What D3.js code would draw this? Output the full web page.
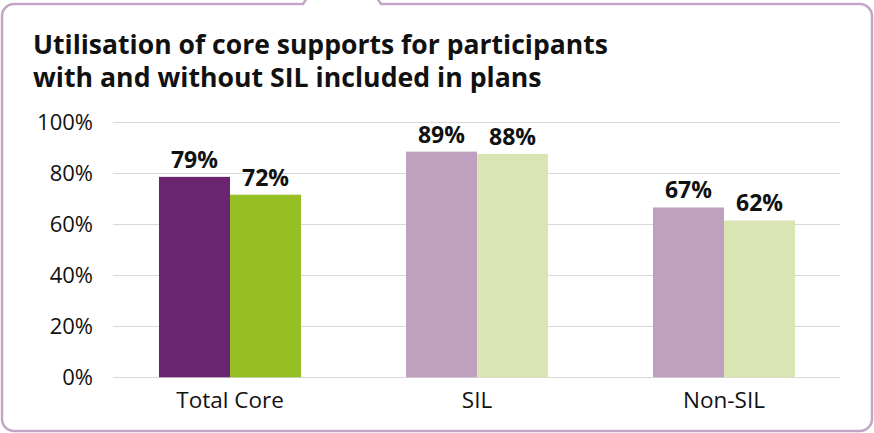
<!DOCTYPE html>
<html><head><meta charset="utf-8">
<script src="https://cdn.jsdelivr.net/npm/d3@7/dist/d3.min.js"></script>
<style>
html,body{margin:0;padding:0;background:#fff;}
svg{display:block;}
text{font-family:"Open Sans",sans-serif;fill:#111;}
</style></head>
<body>
<svg id="chart" width="874" height="433"></svg>
<script>
const titleLines = ["Utilisation of core supports for participants", "with and without SIL included in plans"];
const categories = ["Total Core", "SIL", "Non-SIL"];
const seriesA = [78.6, 88.5, 66.6];
const seriesB = [71.6, 87.6, 61.5];
const yTicks = [0, 20, 40, 60, 80, 100];
const colorsA = ["#6b2570", "#bfa0bf", "#bfa0bf"];
const colorsB = ["#96bf23", "#d9e5b2", "#d9e5b2"];

const svg = d3.select("#chart");

// Frame with top tab notch
const fr = {l:2, r:872, t:4, b:431, rad:12};
const frame = d3.path();
frame.moveTo(307, -2);
frame.lineTo(303, fr.t);
frame.lineTo(fr.l + fr.rad, fr.t);
frame.arcTo(fr.l, fr.t, fr.l, fr.t + fr.rad, fr.rad);
frame.lineTo(fr.l, fr.b - fr.rad);
frame.arcTo(fr.l, fr.b, fr.l + fr.rad, fr.b, fr.rad);
frame.lineTo(fr.r - fr.rad, fr.b);
frame.arcTo(fr.r, fr.b, fr.r, fr.b - fr.rad, fr.rad);
frame.lineTo(fr.r, fr.t + fr.rad);
frame.arcTo(fr.r, fr.t, fr.r - fr.rad, fr.t, fr.rad);
frame.lineTo(381, fr.t);
frame.lineTo(377, -2);
svg.append("path").attr("d", frame.toString())
  .attr("fill", "none").attr("stroke", "#c3a6c6").attr("stroke-width", 2.5);

// Title, fitted to the reference width
const titleWidths = [575, 509];
titleLines.forEach((t, i) => {
  const g = svg.append("g").attr("transform", `translate(33,${53.5 + i * 33.5})`);
  const tx = g.append("text").style("font-weight", "700").style("font-size", "26px").text(t);
  const w = tx.node().getComputedTextLength();
  tx.attr("transform", `scale(${titleWidths[i] / w},1)`);
});

// Scales
const y = d3.scaleLinear().domain([0, 100]).range([377.3, 122.3]);
const x = d3.scaleBand().domain(categories).range([106.5, 847.5])
  .paddingInner(0.425).paddingOuter(0.2125);
const bw = x.bandwidth() / 2;

// Grid
svg.append("g").selectAll("line").data(yTicks).join("line")
  .attr("x1", 113).attr("x2", 840)
  .attr("y1", d => Math.round(y(d)) + 0.5).attr("y2", d => Math.round(y(d)) + 0.5)
  .attr("stroke", "#d9d9d9").attr("stroke-width", 1);

// Y axis labels
const yAxis = d3.axisLeft(y).tickValues(yTicks).tickFormat(d => d + "%").tickSize(0).tickPadding(0);
const ya = svg.append("g").attr("transform", "translate(93,0)").call(yAxis);
ya.select(".domain").remove();
ya.selectAll("text").style("font-size", "22px").style("font-family", "'Open Sans',sans-serif").attr("fill", "#111");

// X axis labels
const xAxis = d3.axisBottom(x).tickSize(0).tickPadding(0);
const xa = svg.append("g").attr("transform", "translate(0,392)").call(xAxis);
xa.select(".domain").remove();
xa.selectAll("text").style("font-size", "22.5px").style("font-family", "'Open Sans',sans-serif").attr("fill", "#111").attr("dy", "0.71em");

// Bars
const data = categories.map((c, i) => ({c, a: seriesA[i], b: seriesB[i], i}));
const bars = svg.append("g");
bars.selectAll("rect.a").data(data).join("rect").attr("class", "a")
  .attr("x", d => x(d.c)).attr("width", bw)
  .attr("y", d => y(d.a)).attr("height", d => y(0) - y(d.a))
  .attr("fill", d => colorsA[d.i]);
bars.selectAll("rect.b").data(data).join("rect").attr("class", "b")
  .attr("x", d => x(d.c) + bw).attr("width", bw)
  .attr("y", d => y(d.b)).attr("height", d => y(0) - y(d.b))
  .attr("fill", d => colorsB[d.i]);

// Value labels
const lab = svg.append("g").style("font-weight", "700").style("font-size", "23px").attr("text-anchor", "middle");
lab.selectAll("text.a").data(data).join("text").attr("class", "a")
  .attr("x", d => x(d.c) + bw / 2).attr("y", d => y(d.a) - 9)
  .text(d => Math.round(d.a) + "%");
lab.selectAll("text.b").data(data).join("text").attr("class", "b")
  .attr("x", d => x(d.c) + bw * 1.5).attr("y", d => y(d.b) - 9)
  .text(d => Math.round(d.b) + "%");
</script>
</body></html>
